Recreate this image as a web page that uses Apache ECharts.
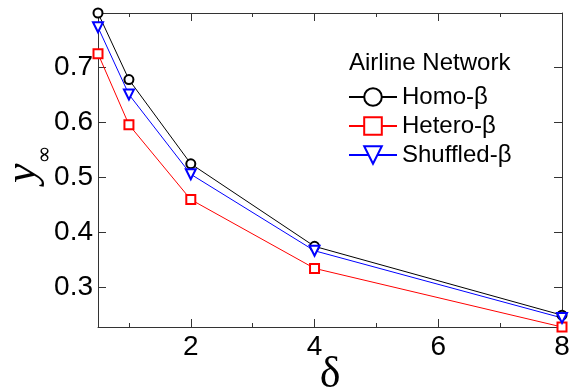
<!DOCTYPE html>
<html>
<head>
<meta charset="utf-8">
<script src="https://cdn.jsdelivr.net/npm/echarts@6/dist/echarts.min.js"></script>
<style>
  html, body { margin: 0; padding: 0; background: #fff; }
  #chart { width: 571px; height: 390px; }
</style>
</head>
<body>
<div id="chart"></div>
<script>
// delta values on the x axis
const deltas = [0.5, 1, 2, 4, 8];
// y_infinity
const homo = [0.798, 0.677, 0.524, 0.374, 0.249];
const hetero = [0.724, 0.595, 0.459, 0.334, 0.2275];
const shuffled = [0.772, 0.650, 0.505, 0.366, 0.244];

const xMajor = [2, 4, 6, 8];
const xMinor = [1, 3, 5, 7];
const yTicks = [0.3, 0.4, 0.5, 0.6, 0.7];

const axisColor = '#333';
const sans = 'Liberation Sans';

const pairs = (ys) => deltas.map((d, i) => [d, ys[i]]);

const chart = echarts.init(document.getElementById('chart'));

// x axis helper: bottom / top, major / minor ticks
const xAx = (pos, ticks, len, labels, line) => ({
    type: 'value', position: pos, min: 0.5, max: 8,
    axisLine: { show: line, onZero: false, lineStyle: { color: axisColor, width: 1 } },
    axisTick: { show: true, inside: true, length: len, customValues: ticks, lineStyle: { color: axisColor } },
    axisLabel: labels ? { show: true, customValues: xMajor, margin: 6, color: '#000', fontSize: 28, fontFamily: sans }
                      : { show: false },
    splitLine: { show: false }
});

chart.setOption({
    animation: false,
    grid: { left: 98, right: 9, top: 13, bottom: 63, outerBoundsMode: 'none', containLabel: false },
    title: {
        text: 'Airline Network', left: 344, top: 46,
        textStyle: { fontSize: 24, fontWeight: 'normal', color: '#000', fontFamily: sans }
    },
    legend: {
        orient: 'vertical', left: 343, top: 80,
        itemWidth: 48, itemHeight: 22, itemGap: 5,
        textStyle: { fontSize: 24, color: '#000', fontFamily: sans },
        data: ['Homo-β', 'Hetero-β', 'Shuffled-β']
    },
    xAxis: [
        Object.assign(xAx('bottom', xMajor, 8, true, true), {
            name: 'δ', nameLocation: 'middle', nameGap: 26, nameMoveOverlap: false,
            nameTextStyle: { fontSize: 44, fontFamily: 'Liberation Serif', color: '#000' }
        }),
        xAx('bottom', xMinor, 4, false, false),
        xAx('top', xMajor, 8, false, true),
        xAx('top', xMinor, 4, false, false)
    ],
    yAxis: [
        {
            type: 'value', position: 'left', min: 0.2275, max: 0.798,
            // italic y with subscript infinity
            name: '{y|y}{s|∞}', nameLocation: 'middle', nameGap: 42, nameRotate: 90, nameMoveOverlap: false,
            nameTextStyle: {
                padding: [0, 0, 0, 12],
                rich: {
                    y: { fontSize: 44, lineHeight: 66, fontStyle: 'italic', fontFamily: 'Liberation Serif', color: '#000' },
                    s: { fontSize: 22, lineHeight: 2, verticalAlign: 'bottom', fontFamily: 'DejaVu Sans', color: '#000' }
                }
            },
            axisLine: { show: true, onZero: false, lineStyle: { color: axisColor } },
            axisTick: { show: true, inside: true, length: 8, customValues: yTicks, lineStyle: { color: axisColor } },
            axisLabel: { customValues: yTicks, margin: 5, color: '#000', fontSize: 28, fontFamily: sans,
                         formatter: (v) => v.toFixed(1) },
            splitLine: { show: false }
        },
        {
            type: 'value', position: 'right', min: 0.2275, max: 0.798,
            axisLine: { show: true, onZero: false, lineStyle: { color: axisColor } },
            axisTick: { show: true, inside: true, length: 8, customValues: yTicks, lineStyle: { color: axisColor } },
            axisLabel: { show: false },
            splitLine: { show: false }
        }
    ],
    series: [
        {
            name: 'Homo-β', type: 'line', data: pairs(homo), clip: false,
            symbol: 'emptyCircle', symbolSize: 9,
            lineStyle: { color: '#000', width: 1 },
            itemStyle: { color: '#000', borderWidth: 1 }
        },
        {
            name: 'Hetero-β', type: 'line', data: pairs(hetero), clip: false,
            symbol: 'emptyRect', symbolSize: 9,
            lineStyle: { color: '#ff0000', width: 1 },
            itemStyle: { color: '#ff0000', borderWidth: 1 }
        },
        {
            name: 'Shuffled-β', type: 'line', data: pairs(shuffled), clip: false,
            symbol: 'emptyTriangle', symbolSize: 10, symbolRotate: 180,
            lineStyle: { color: '#0000ff', width: 1 },
            itemStyle: { color: '#0000ff', borderWidth: 1 }
        }
    ]
});
</script>
</body>
</html>
